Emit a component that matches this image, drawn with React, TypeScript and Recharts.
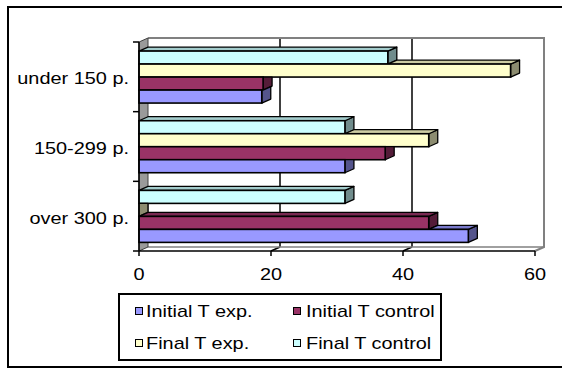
import React from 'react';
import * as Recharts from 'recharts';

const { BarChart, Bar, XAxis, YAxis, CartesianGrid, Legend } = Recharts;
const R: any = Recharts;

// ---- data ----
const CATEGORIES = ['under 150 p.', '150-299 p.', 'over 300 p.'];
const INITIAL_T_EXP = [18.6, 31.2, 49.9];
const INITIAL_T_CONTROL = [18.8, 37.3, 43.9];
const FINAL_T_EXP = [56.3, 43.9, 0];
const FINAL_T_CONTROL = [37.7, 31.2, 31.2];
const X_TICKS = [0, 20, 40, 60];

const SERIES = [
  { key: 'initialExp', name: 'Initial T exp.', color: '#9999FF', values: INITIAL_T_EXP },
  { key: 'initialControl', name: 'Initial T control', color: '#993366', values: INITIAL_T_CONTROL },
  { key: 'finalExp', name: 'Final T exp.', color: '#FFFFCC', values: FINAL_T_EXP },
  { key: 'finalControl', name: 'Final T control', color: '#CCFFFF', values: FINAL_T_CONTROL },
];

// bars are laid out top-to-bottom inside each category band
const STACK_ORDER = [...SERIES].reverse();

const data = CATEGORIES.map((name, i) => {
  const row: Record<string, any> = { name };
  SERIES.forEach((s) => {
    row[s.key] = s.values[i];
  });
  return row;
});

// ---- look ----
const FONT = '"Liberation Sans", Arial, sans-serif';
const FONT_SIZE = 17;
const STRETCH = 1.17;
const DX = 9; // depth offset of the 3-D box
const DY = -4;
const WALL_EDGE = '#808080';
const Y_TICK_SIZE = 6;
const Y_TICK_MARGIN = 4;

function shade(hex: string, f: number) {
  const n = parseInt(hex.slice(1), 16);
  const r = Math.round(((n >> 16) & 255) * f);
  const g = Math.round(((n >> 8) & 255) * f);
  const b = Math.round((n & 255) * f);
  return `rgb(${r},${g},${b})`;
}

function usePlot() {
  if (R.usePlotArea) {
    const p = R.usePlotArea();
    if (p) return p;
  }
  return { x: 139, y: 42, width: 396, height: 209 };
}

// Back wall, left wall and floor of the pseudo-3D frame
function Walls() {
  const p = usePlot();
  const l = p.x;
  const t = p.y;
  const r = p.x + p.width;
  const b = p.y + p.height;
  return (
    <g>
      <line x1={l + DX} y1={b + DY} x2={r + DX} y2={b + DY} stroke={WALL_EDGE} strokeWidth={1.5} />
      <polyline
        points={`${l + DX},${t + DY} ${r + DX},${t + DY} ${r + DX},${b + DY} ${r},${b}`}
        fill="none"
        stroke={WALL_EDGE}
        strokeWidth={2}
      />
      <polygon
        points={`${l},${t} ${l + DX},${t + DY} ${l + DX},${b + DY} ${l},${b}`}
        fill="#9a9a9a"
        stroke="#404040"
        strokeWidth={1}
      />
    </g>
  );
}

// Grid line drawn on the back wall, with its run across the floor
function BackGridLine(props: any) {
  const p = usePlot();
  const { x1, y1, y2 } = props;
  if (Math.abs(x1 - p.x) < 1 || Math.abs(x1 - (p.x + p.width)) < 1) return null;
  return (
    <g>
      <line x1={x1 + DX} y1={y1 + DY} x2={x1 + DX} y2={y2 + DY} stroke="#000" strokeWidth={1.5} />
      <line x1={x1 + DX} y1={y2 + DY} x2={x1} y2={y2} stroke="#000" strokeWidth={1.5} />
    </g>
  );
}

function Bar3D(props: any) {
  const { x, y, height, fill, payload, order } = props;
  const w = Math.max(0, props.width || 0);
  const h = height;
  const xe = x + w;
  const value = payload[STACK_ORDER[order].key];
  // right end of the bar sitting directly above (it hides part of this one)
  let upperEnd = -Infinity;
  if (order > 0) {
    const upVal = payload[STACK_ORDER[order - 1].key];
    if (value > 0) upperEnd = x + upVal * (w / value);
    else upperEnd = upVal > 0 ? Infinity : x;
  }
  const sideStart = Math.min(Math.max(upperEnd, xe), xe + DX);
  const topStart = Math.max(upperEnd, x);
  const sidePts = [
    [xe, y + h],
    [xe, y],
    [sideStart, y],
    [xe + DX, y + (DY * (xe + DX - sideStart)) / DX],
    [xe + DX, y + h + DY],
  ]
    .map((q) => q.join(','))
    .join(' ');
  return (
    <g>
      <polygon points={sidePts} fill={shade(fill, 0.55)} stroke="#000" strokeWidth={1.3} strokeLinejoin="round" />
      {topStart < xe && (
        <polygon
          points={`${topStart},${y} ${topStart + DX},${y + DY} ${xe + DX},${y + DY} ${xe},${y}`}
          fill={shade(fill, 0.8)}
          stroke="#000"
          strokeWidth={1.3}
          strokeLinejoin="round"
        />
      )}
      {w > 0 && <rect x={x} y={y} width={w} height={h} fill={fill} stroke="#000" strokeWidth={1.6} />}
    </g>
  );
}

function XTick(props: any) {
  const { x, y, payload } = props;
  return (
    <g transform={`translate(${x},${y})`}>
      <text
        transform={`scale(${STRETCH},1)`}
        textAnchor="middle"
        y={22.5}
        fontFamily={FONT}
        fontSize={FONT_SIZE}
        fill="#000"
      >
        {payload.value}
      </text>
    </g>
  );
}

function YTick(props: any) {
  const { x, y, payload, index } = props;
  const p = usePlot();
  const axisX = x + Y_TICK_SIZE + Y_TICK_MARGIN;
  const half = p.height / CATEGORIES.length / 2;
  return (
    <g>
      <line x1={axisX - Y_TICK_SIZE} y1={y - half} x2={axisX} y2={y - half} stroke="#000" strokeWidth={1.5} />
      {index === CATEGORIES.length - 1 && (
        <line x1={axisX - Y_TICK_SIZE} y1={y + half} x2={axisX} y2={y + half} stroke="#000" strokeWidth={1.5} />
      )}
      <g transform={`translate(${x},${y})`}>
        <text
          transform={`scale(${STRETCH},1)`}
          textAnchor="end"
          y={7.5}
          fontFamily={FONT}
          fontSize={FONT_SIZE}
          fill="#000"
        >
          {payload.value}
        </text>
      </g>
    </g>
  );
}

function LegendBox() {
  return (
    <div
      style={{
        width: 324,
        height: 68,
        border: '2px solid #000',
        boxSizing: 'border-box',
        background: '#fff',
        position: 'relative',
        fontFamily: FONT,
        fontSize: FONT_SIZE,
        color: '#000',
      }}
    >
      {SERIES.map((s, i) => {
        const col = i % 2;
        const row = Math.floor(i / 2);
        const cy = row === 0 ? 16 : 48;
        const sq = col === 0 ? 15 : 173;
        const tx = col === 0 ? 26 : 186;
        return (
          <React.Fragment key={s.key}>
            <div
              style={{
                position: 'absolute',
                left: sq,
                top: cy - 4,
                width: 8,
                height: 8,
                background: s.color,
                border: '1px solid #000',
                boxSizing: 'border-box',
              }}
            />
            <div
              style={{
                position: 'absolute',
                left: tx,
                top: cy - 8.5,
                lineHeight: '17px',
                whiteSpace: 'nowrap',
                transform: `scaleX(${STRETCH})`,
                transformOrigin: 'left center',
              }}
            >
              {s.name}
            </div>
          </React.Fragment>
        );
      })}
    </div>
  );
}

export default function App() {
  return (
    <div
      style={{
        position: 'absolute',
        left: 0,
        top: 0,
        width: 562,
        height: 368,
        overflow: 'hidden',
        background: '#fff',
      }}
    >
      <div
        style={{
          position: 'absolute',
          left: 7,
          top: 6,
          width: 570,
          height: 362,
          border: '2px solid #000',
          boxSizing: 'border-box',
        }}
      />
      <div style={{ position: 'absolute', left: 0, top: 0 }}>
        <BarChart
          width={562}
          height={368}
          data={data}
          layout="vertical"
          margin={{ top: 42, right: 27, bottom: 87, left: 0 }}
          barCategoryGap="13%"
          barGap={0}
        >
          <Walls />
          <CartesianGrid horizontal={false} vertical={<BackGridLine />} />
          <XAxis
            type="number"
            domain={[0, 60]}
            ticks={X_TICKS}
            interval={0}
            height={30}
            tickSize={5}
            tickLine={{ stroke: '#000', strokeWidth: 1.5 }}
            axisLine={{ stroke: '#000', strokeWidth: 1.5 }}
            tick={<XTick />}
          />
          <YAxis
            type="category"
            dataKey="name"
            width={139}
            interval={0}
            tickSize={Y_TICK_SIZE}
            tickMargin={Y_TICK_MARGIN}
            tickLine={false}
            axisLine={{ stroke: '#000', strokeWidth: 1.5 }}
            tick={<YTick />}
          />
          {STACK_ORDER.map((s, j) => (
            <Bar
              key={s.key}
              dataKey={s.key}
              name={s.name}
              fill={s.color}
              isAnimationActive={false}
              shape={(p: any) => <Bar3D {...p} order={j} />}
            />
          ))}
          <Legend
            layout="horizontal"
            verticalAlign="middle"
            align="center"
            wrapperStyle={{ left: 118, top: 293, width: 324, height: 68 }}
            content={() => <LegendBox />}
          />
        </BarChart>
      </div>
    </div>
  );
}
